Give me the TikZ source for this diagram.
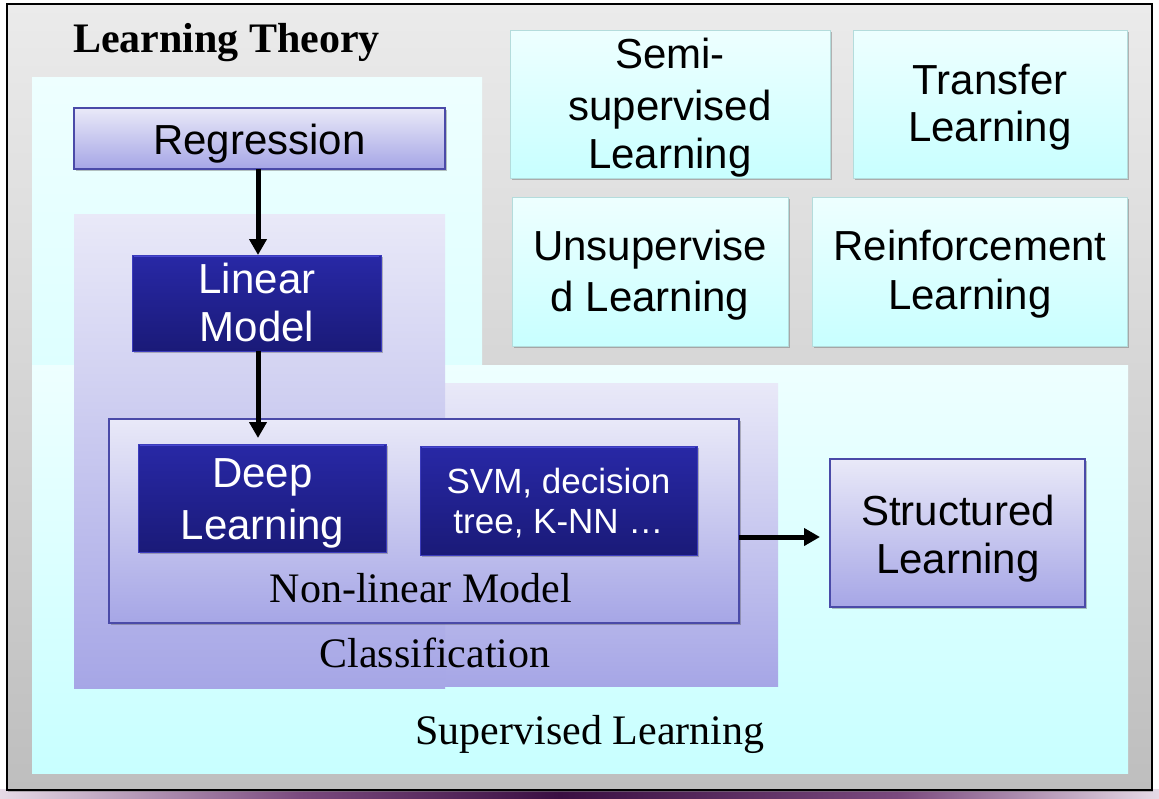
\documentclass[tikz,border=0pt]{standalone}
\usepackage{fontspec}
\setmainfont{Liberation Serif}
\newfontfamily\arialf{Liberation Sans}
\usetikzlibrary{arrows.meta,shadows}
\definecolor{frameT}{HTML}{EBEBEB}
\definecolor{frameB}{HTML}{BEBEBE}
\definecolor{cyanT}{HTML}{EEFFFF}
\definecolor{cyanM}{HTML}{DCFFFF}
\definecolor{cyanB}{HTML}{C8FFFF}
\definecolor{lavT}{HTML}{E9E9F8}
\definecolor{lavB}{HTML}{A6A6E6}
\definecolor{lavD}{HTML}{4A4AA8}
\definecolor{dbT}{HTML}{2828A6}
\definecolor{dbB}{HTML}{1A1A78}
\definecolor{dbD}{HTML}{3C3CBC}
\definecolor{dbE}{HTML}{4848D0}
\definecolor{cyD}{HTML}{B4DCDC}
\definecolor{purpD}{HTML}{3A0F42}
\definecolor{purpM}{HTML}{7A4A7E}
\definecolor{purpL}{HTML}{E6DAE6}
\begin{document}
\begin{tikzpicture}[x=1pt,y=-1pt,
  every node/.style={inner sep=0pt, outer sep=0pt},
  bigfont/.style={font=\arialf\fontsize{42}{48}\selectfont},
  smallfont/.style={font=\arialf\fontsize{35}{40}\selectfont},
  serifbig/.style={font=\fontsize{42}{48}\selectfont},
  shadowed/.style={drop shadow={shadow xshift=1.5pt, shadow yshift=-2pt, opacity=0.35, fill=black!70}},
  lavbox/.style={rectangle, draw=lavD, line width=1.2pt, top color=lavT, bottom color=lavB, shadowed},
  bluebox/.style={rectangle, draw=dbD, line width=1pt, top color=dbT, bottom color=dbB, shadowed},
  cyanbox/.style={rectangle, draw=cyD, line width=0.8pt, top color=cyanT, bottom color=cyanB, shadowed},
  boxtext/.style={align=center, bigfont},
  whitetext/.style={align=center, bigfont, text=white},
  bevel/.style={draw=dbE, line width=1.5pt},
  arr/.style={line width=5pt, -{Triangle[length=16pt,width=17pt]}}
]
\useasboundingbox (0,0) rectangle (1159,798);
\fill[white] (0,0) rectangle (1159,798);
% slide background strip
\shade[left color=purpL, right color=purpM] (0,789) rectangle (300,798);
\shade[left color=purpM, right color=purpD] (300,789) rectangle (560,798);
\shade[left color=purpD, right color=purpM] (560,789) rectangle (900,798);
\shade[left color=purpM, right color=purpL] (900,789) rectangle (1159,798);
% outer frame
\node[rectangle, draw=black, line width=1.5pt, top color=frameT, bottom color=frameB,
      minimum width=1145pt, minimum height=786pt, drop shadow={shadow xshift=1pt, shadow yshift=-2pt, opacity=0.5}] (frame) at (579.5,397) {};
% supervised learning region
\shade[top color=cyanT, bottom color=cyanM] (32,77) rectangle (482,400);
\shade[top color=cyanT, bottom color=cyanB] (32,365) rectangle (1128,773);
% classification region
\shade[top color=lavT, bottom color=lavB] (122,383) rectangle (778,686);
\shade[top color=lavT, bottom color=lavB] (74,214) rectangle (445,688);
% title
\node[anchor=base west, font=\bfseries\fontsize{42}{48}\selectfont] (title) at (73,52) {Learning Theory};
% boxes
\node[lavbox, minimum width=371pt, minimum height=61pt] (reg) at (259.5,138.5) {};
\node[boxtext] (regt) at (259.5,143.35) {Regression};
\node[bluebox, minimum width=249pt, minimum height=96pt] (lin) at (256.5,303) {};
\draw[bevel] ([xshift=2pt,yshift=-1.5pt]lin.north west) -- ([xshift=-2pt,yshift=-1.5pt]lin.north east);
\node[whitetext] (lint) at (257,302.3) {Linear\\Model};
\node[lavbox, minimum width=630pt, minimum height=204pt] (nonlin) at (424,521) {};
\node[bluebox, minimum width=248pt, minimum height=108pt] (deep) at (262,498) {};
\draw[bevel] ([xshift=2pt,yshift=-1.5pt]deep.north west) -- ([xshift=-2pt,yshift=-1.5pt]deep.north east);
\node[whitetext] (deept) at (262.5,503.3) {Deep\\[4pt]Learning};
\node[bluebox, minimum width=277pt, minimum height=109pt] (svm) at (558.5,500.5) {};
\draw[bevel] ([xshift=2pt,yshift=-1.5pt]svm.north west) -- ([xshift=-2pt,yshift=-1.5pt]svm.north east);
\node[whitetext, smallfont] (svmt) at (558.5,502.8) {SVM, decision\\tree, K-NN \ldots};
\node[lavbox, minimum width=255pt, minimum height=148pt] (struct) at (957.5,533) {};
\node[boxtext] (structt) at (958,538.2) {Structured\\Learning};
\node[cyanbox, minimum width=320pt, minimum height=148pt] (semi) at (670,104) {};
\node[boxtext] (semit) at (670,107.3) {Semi-\\[3.7pt]supervised\\Learning};
\node[cyanbox, minimum width=274pt, minimum height=148pt] (transfer) at (990,104) {};
\node[boxtext] (transfert) at (990,107.6) {Transfer\\[-1pt]Learning};
\node[cyanbox, minimum width=276pt, minimum height=149pt] (unsup) at (650,271.5) {};
\node[boxtext] (unsupt) at (650,275.2) {Unsupervise\\[3.7pt]d Learning};
\node[cyanbox, minimum width=315pt, minimum height=149pt] (reinf) at (969.5,271.5) {};
\node[boxtext] (reinft) at (970,273.8) {Reinforcement\\[1.3pt]Learning};
% region labels
\node[anchor=base, serifbig] (nonlinlab) at (421,602) {Non-linear Model};
\node[anchor=base, serifbig] (classlab) at (435,667) {Classification};
\node[anchor=base, serifbig] (suplab) at (590,744) {Supervised Learning};
% arrows
\coordinate (ax) at (258,0);
\coordinate (ay) at (0,537);
\draw[arr] (reg.south -| ax) -- (lin.north -| ax);
\draw[arr, shorten >=6pt] (lin.south -| ax) -- (deep.north -| ax);
\draw[arr, shorten >=10pt] (nonlin.east |- ay) -- (struct.west |- ay);
\end{tikzpicture}
\end{document}
